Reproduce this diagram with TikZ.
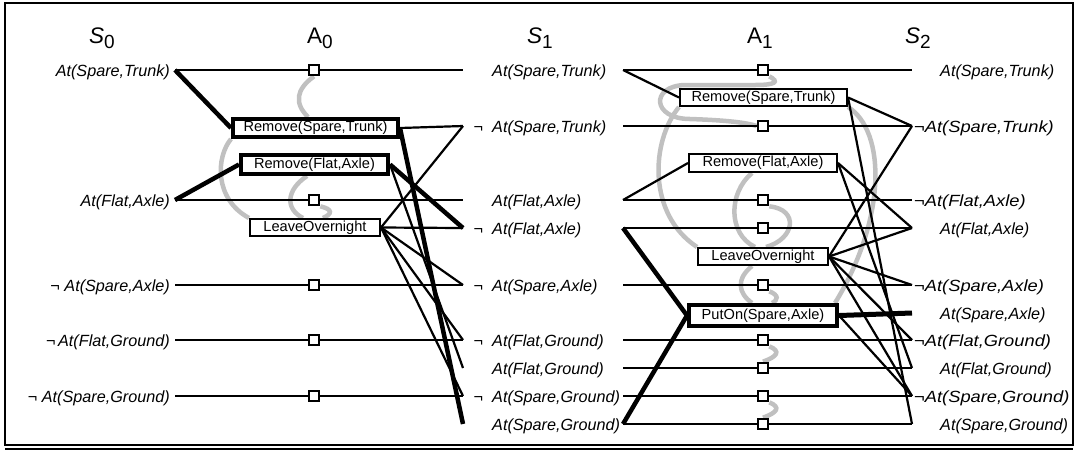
\documentclass[tikz,border=0pt]{standalone}
\usepackage{fontspec}
\setmainfont{Liberation Sans}
\definecolor{mutexgray}{RGB}{192,192,192}
\pgfdeclarelayer{mut}
\pgfdeclarelayer{edges}
\pgfsetlayers{mut,edges,main}
\newcommand\ttlS[1]{{\itshape S}\raisebox{-5pt}{\fontsize{19}{21}\selectfont #1}}
\newcommand\ttlA[1]{A\raisebox{-5pt}{\fontsize{19}{21}\selectfont #1}}
\newcommand\wneg[1]{\scalebox{1.13}[1]{#1}}
\begin{document}
\begin{tikzpicture}[x=1pt,y=-1pt,
  lab/.style={inner sep=0pt, font=\fontsize{16.2}{18}\selectfont\itshape},
  ttl/.style={inner sep=0pt, anchor=base, font=\fontsize{22.5}{25}\selectfont},
  act/.style={draw, line width=2pt, fill=white, inner sep=0pt, font=\fontsize{14.6}{16}\selectfont},
  thickact/.style={act, line width=4pt},
  pers/.style={draw, line width=2.2pt, fill=white, minimum size=10.5pt, inner sep=0pt},
  ln/.style={line width=2.2pt},
  tk/.style={line width=4.5pt},
  mutex/.style={line width=4.5pt, draw=mutexgray},
]
\useasboundingbox (0,0) rectangle (1078,451);
% frame
\draw[line width=2pt] (5,3) rectangle (1073,445);
\draw[line width=2pt] (5,449) -- (1073,449);

% titles
\node[ttl] (tS0) at (102,43) {\ttlS{0}};
\node[ttl] (tA0) at (320,43) {\ttlA{0}};
\node[ttl] (tS1) at (540,43) {\ttlS{1}};
\node[ttl] (tA1) at (760,43) {\ttlA{1}};
\node[ttl] (tS2) at (918,43) {\ttlS{2}};

% S0 labels
\node[lab, anchor=base east] (l0ST) at (170,76.5) {At(Spare,Trunk)};
\node[lab, anchor=base east] (l0FA) at (170,206.5) {At(Flat,Axle)};
\node[lab, anchor=base east] (l0nSA) at (170,291.5) {¬ At(Spare,Axle)};
\node[lab, anchor=base east] (l0nFG) at (170,346.5) {¬\,At(Flat,Ground)};
\node[lab, anchor=base east] (l0nSG) at (170,402.5) {¬ At(Spare,Ground)};

% S1 labels
\node[lab, anchor=base west] (l1ST) at (492,76.5) {At(Spare,Trunk)};
\node[lab, anchor=base west] (l1nST) at (492,132.5) {\llap{¬\hspace{9pt}}At(Spare,Trunk)};
\node[lab, anchor=base west] (l1FA) at (492,206.5) {At(Flat,Axle)};
\node[lab, anchor=base west] (l1nFA) at (492,234.5) {\llap{¬\hspace{9pt}}At(Flat,Axle)};
\node[lab, anchor=base west] (l1nSA) at (492,291.5) {\llap{¬\hspace{9pt}}At(Spare,Axle)};
\node[lab, anchor=base west] (l1nFG) at (492,346.5) {\llap{¬\hspace{9pt}}At(Flat,Ground)};
\node[lab, anchor=base west] (l1FG) at (492,374.5) {At(Flat,Ground)};
\node[lab, anchor=base west] (l1nSG) at (492,402.5) {\llap{¬\hspace{9pt}}At(Spare,Ground)};
\node[lab, anchor=base west] (l1SG) at (492,430.5) {At(Spare,Ground)};

% S2 labels
\node[lab, anchor=base west] (l2ST) at (940,76.5) {At(Spare,Trunk)};
\node[lab, anchor=base west] (l2nST) at (914,132.5) {\wneg{¬At(Spare,Trunk)}};
\node[lab, anchor=base west] (l2r200) at (914,206.5) {\wneg{¬At(Flat,Axle)}};
\node[lab, anchor=base west] (l2r228) at (940,234.5) {At(Flat,Axle)};
\node[lab, anchor=base west] (l2nSA) at (914,291.5) {\wneg{¬At(Spare,Axle)}};
\node[lab, anchor=base west] (l2SA) at (940,319.5) {At(Spare,Axle)};
\node[lab, anchor=base west] (l2nFG) at (914,346.5) {\wneg{¬At(Flat,Ground)}};
\node[lab, anchor=base west] (l2FG) at (940,374.5) {At(Flat,Ground)};
\node[lab, anchor=base west] (l2nSG) at (914,402.5) {\wneg{¬At(Spare,Ground)}};
\node[lab, anchor=base west] (l2SG) at (940,430.5) {At(Spare,Ground)};

% connection points
\coordinate (c0ST) at (175,70);
\coordinate (c0FA) at (175,200);
\coordinate (c0nSA) at (175,285);
\coordinate (c0nFG) at (175,340);
\coordinate (c0nSG) at (175,396);
\foreach \n/\y in {ST/70,nST/126,FA/200,nFA/228,nSA/285,nFG/340,FG/368,nSG/396,SG/424}{
  \coordinate (c1\n i) at (463,\y);
  \coordinate (c1\n o) at (623,\y);
}
\foreach \n/\y in {ST/70,nST/126,r200/200,r228/228,nSA/285,SA/313,nFG/340,FG/368,nSG/396,SG/424}{
  \coordinate (c2\n) at (912,\y);
}

% persistence boxes
\foreach \n/\y in {ST/70,FA/200,nSA/285,nFG/340,nSG/396}{
  \node[pers] (p0\n) at (314,\y) {};
}
\foreach \n/\y in {ST/70,nST/126,FA/200,nFA/228,nSA/285,nFG/340,FG/368,nSG/396,SG/424}{
  \node[pers] (p1\n) at (763,\y) {};
}

% action boxes
\node[thickact, minimum width=165pt, minimum height=18pt] (rst0) at (315.5,128) {Remove(Spare,Trunk)};
\node[thickact, minimum width=147pt, minimum height=19pt] (rfa0) at (314.5,164.5) {Remove(Flat,Axle)};
\node[act, minimum width=130pt, minimum height=17pt] (lo0) at (315,227.5) {LeaveOvernight};
\node[act, minimum width=167pt, minimum height=17pt] (rst1) at (763.5,97.5) {Remove(Spare,Trunk)};
\node[act, minimum width=148pt, minimum height=18pt] (rfa1) at (763,163) {Remove(Flat,Axle)};
\node[act, minimum width=130pt, minimum height=17pt] (lo1) at (763,256.5) {LeaveOvernight};
\node[thickact, minimum width=148pt, minimum height=21pt] (po1) at (763,315.5) {PutOn(Spare,Axle)};

% edges
\begin{pgfonlayer}{edges}
% persistence A0
\draw[ln] (c0ST) -- (p0ST) -- (c1STi);
\draw[ln] (c0FA) -- (p0FA) -- (c1FAi);
\draw[ln] (c0nSA) -- (p0nSA) -- (c1nSAi);
\draw[ln] (c0nFG) -- (p0nFG) -- (c1nFGi);
\draw[ln] (c0nSG) -- (p0nSG) -- (c1nSGi);
% preconditions A0
\draw[tk] (c0ST) -- (rst0.west);
\draw[tk] (c0FA) -- (rfa0.west);
% effects A0
\draw[ln] (rst0.east) -- (c1nSTi);
\draw[tk] (rst0.east) -- (c1SGi);
\draw[tk] (rfa0.east) -- (c1nFAi);
\draw[ln] (rfa0.east) -- (c1FGi);
\foreach \t in {nST,nFA,nSA,nFG,nSG}{ \draw[ln] (lo0.east) -- (c1\t i); }
% persistence A1
\draw[ln] (c1STo) -- (p1ST) -- (c2ST);
\draw[ln] (c1nSTo) -- (p1nST) -- (c2nST);
\draw[ln] (c1FAo) -- (p1FA) -- (c2r200);
\draw[ln] (c1nFAo) -- (p1nFA) -- (c2r228);
\draw[ln] (c1nSAo) -- (p1nSA) -- (c2nSA);
\draw[ln] (c1nFGo) -- (p1nFG) -- (c2nFG);
\draw[ln] (c1FGo) -- (p1FG) -- (c2FG);
\draw[ln] (c1nSGo) -- (p1nSG) -- (c2nSG);
\draw[ln] (c1SGo) -- (p1SG) -- (c2SG);
% preconditions A1
\draw[ln] (c1STo) -- (rst1.west);
\draw[ln] (c1FAo) -- (rfa1.west);
\draw[tk] (c1nFAo) -- (po1.west);
\draw[tk] (c1SGo) -- (po1.west);
% effects A1
\draw[ln] (rst1.east) -- (c2nST);
\draw[ln] (rst1.east) -- (c2SG);
\draw[ln] (rfa1.east) -- (c2r228);
\draw[ln] (rfa1.east) -- (c2FG);
\foreach \t in {nST,r228,nSA,nFG,nSG}{ \draw[ln] (lo1.east) -- (c2\t); }
\draw[line width=5pt] (po1.east) -- (c2SA);
\draw[ln] (po1.east) -- (c2nSG);
\end{pgfonlayer}

% mutex links
\begin{pgfonlayer}{mut}
\draw[mutex] (p0ST.south) .. controls +(-18,13) and +(-14,-14) .. ([xshift=-7.5pt]rst0.north);
\draw[mutex] (rst0.south west) .. controls +(-15,18) and +(-35,-19) .. (lo0.north west);
\draw[mutex] ([xshift=-7.5pt]rfa0.south) .. controls +(-21,14) and +(-18,-9) .. ([xshift=-12pt]lo0.north);
\draw[mutex] (p0FA.south east) .. controls +(13,3) and +(9,-4) .. ([xshift=8pt]lo0.north);

\draw[mutex] (p1ST.south east) .. controls (780,82) and (775,85) .. (755,85) -- (685,85)
   .. controls (650,86) and (652,119) .. (690,119) .. controls (720,120) and (745,122) .. (p1nST.west);
\draw[mutex] (rst1.south west) .. controls +(-28,34) and +(-50,-33) .. (lo1.north west);
\draw[mutex] (rst1.south east) .. controls +(38,24) and +(52,-85) .. ([xshift=-4pt]po1.north east);
\draw[mutex] ([xshift=-11pt]rfa1.south) .. controls +(-24,20) and +(-27,-13) .. ([xshift=-8pt]lo1.north);
\draw[mutex] (p1FA.south east) .. controls +(30,3) and +(29,-8) .. ([xshift=3pt]lo1.north);
\draw[mutex] ([xshift=-11pt]lo1.south) .. controls +(-16,13) and +(-14,-10) .. ([xshift=-11pt]po1.north);
\draw[mutex] (p1nSA.south east) .. controls +(10,4) and +(6,-3) .. ([xshift=9pt]po1.north);
\draw[mutex] (p1nFG.south east) .. controls +(12,5) and +(14,-5) .. (p1FG.north);
\draw[mutex] (p1nSG.south east) .. controls +(12,5) and +(14,-5) .. (p1SG.north);
\end{pgfonlayer}
\end{tikzpicture}
\end{document}
